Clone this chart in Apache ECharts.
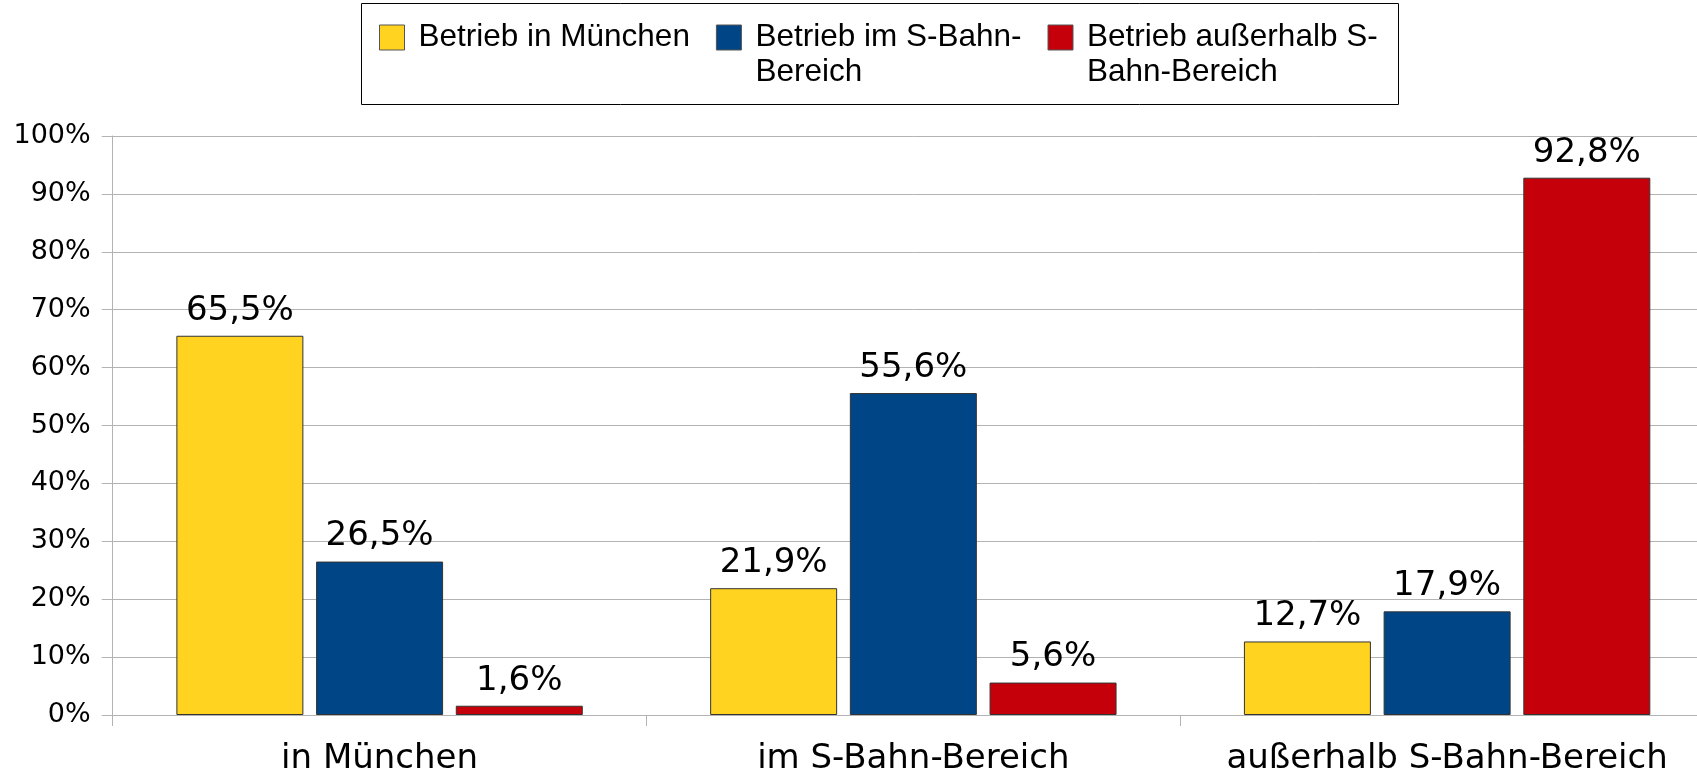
<!DOCTYPE html>
<html>
<head>
<meta charset="utf-8">
<script src="https://cdn.jsdelivr.net/npm/echarts@6/dist/echarts.min.js"></script>
<style>
html,body{margin:0;padding:0;background:#fff;overflow:hidden;width:1697px;height:776px;}
#wrap{position:relative;width:1697px;height:776px;overflow:hidden;}
#c{position:absolute;left:0;top:0;width:1714px;height:776px;}
</style>
</head>
<body>
<div id="wrap"><div id="c"></div></div>
<script>
const categories = ['in München', 'im S-Bahn-Bereich', 'außerhalb S-Bahn-Bereich'];
const seriesNames = ['Betrieb in München', 'Betrieb im S-Bahn-Bereich', 'Betrieb außerhalb S-Bahn-Bereich'];
const legendLabels = ['Betrieb in München', '\nBetrieb im S-Bahn-\nBereich', '\nBetrieb außerhalb S-\nBahn-Bereich'];
const valuesMuenchen = [65.5, 21.9, 12.7];
const valuesSBahn = [26.5, 55.6, 17.9];
const valuesAusserhalb = [1.6, 5.6, 92.8];
const colors = ['#ffd320', '#004586', '#c5000b'];

const chart = echarts.init(document.getElementById('c'));
const allValues = [valuesMuenchen, valuesSBahn, valuesAusserhalb];
const LH = 35;
const fmt = v => v.toFixed(1).replace('.', ',') + '%';

chart.setOption({
  animation: false,
  backgroundColor: '#fff',
  color: colors,
  graphic: [{
    type: 'rect', left: 361, top: 3, z: -1,
    shape: { width: 1037, height: 101 },
    style: { fill: '#fff', stroke: '#000', lineWidth: 1 }
  }],
  legend: {
    left: 379, top: -15,
    padding: 0,
    itemWidth: 25, itemHeight: 25, itemGap: 26,
    icon: 'rect',
    itemStyle: { borderColor: '#555', borderWidth: 1 },
    textStyle: { fontFamily: 'Liberation Sans', fontSize: 31.5, color: '#000', lineHeight: LH, padding: [0, 0, 0, 9] },
    data: seriesNames,
    formatter: name => legendLabels[seriesNames.indexOf(name)]
  },
  grid: { left: 112.7, right: 0, top: 136, bottom: 56.3, containLabel: false },
  xAxis: {
    type: 'category',
    data: categories,
    axisLine: { lineStyle: { color: '#b3b3b3', width: 1 } },
    axisTick: { show: true, length: 11, alignWithLabel: false, lineStyle: { color: '#b3b3b3' } },
    axisLabel: { fontFamily: 'DejaVu Sans', fontSize: 34, color: '#000', margin: 27, interval: 0 },
    splitLine: { show: false }
  },
  yAxis: {
    type: 'value', min: 0, max: 100, interval: 10,
    axisLine: { show: true, lineStyle: { color: '#b3b3b3', width: 1 } },
    axisTick: { show: true, length: 11, lineStyle: { color: '#b3b3b3' } },
    axisLabel: { fontFamily: 'DejaVu Sans', fontSize: 27, color: '#000', margin: 22, formatter: '{value}%' },
    splitLine: { lineStyle: { color: '#b3b3b3', width: 1 } }
  },
  series: seriesNames.map((n, i) => ({
    name: n,
    type: 'bar',
    data: allValues[i],
    barWidth: 127,
    barGap: '10%',
    itemStyle: { color: colors[i], borderColor: '#333', borderWidth: 1 },
    label: {
      show: true, position: 'top', distance: 8,
      fontFamily: 'DejaVu Sans', fontSize: 34, color: '#000',
      formatter: p => fmt(p.value)
    }
  }))
});
</script>
</body>
</html>
